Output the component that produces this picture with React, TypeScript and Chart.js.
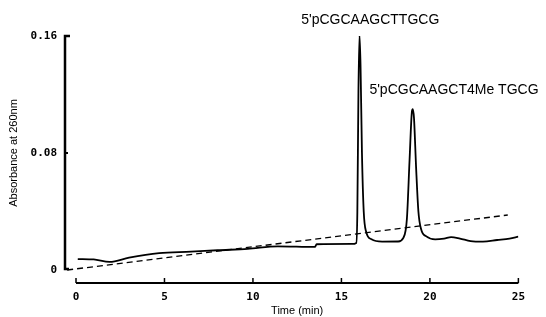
import React, { useEffect, useRef } from "react";
import { Chart, registerables } from "chart.js";

Chart.register(...registerables);

// ---- data ----
const SOLID_T = [0.1, 1.0, 1.9, 3.0, 4.7, 6.5, 8.0, 9.7, 11.4, 13.5, 13.6, 15.6, 15.84, 15.9, 15.96, 16.02, 16.08, 16.16, 16.26, 16.4, 16.7, 17.3, 18.2, 18.5, 18.7, 18.85, 18.98, 19.03, 19.1, 19.22, 19.35, 19.5, 19.8, 20.3, 20.8, 21.2, 21.7, 22.3, 23.0, 23.8, 24.5, 25.0];
const SOLID_A = [0.0075, 0.0072, 0.0055, 0.0085, 0.0116, 0.0125, 0.0135, 0.0144, 0.0162, 0.0158, 0.0176, 0.0178, 0.0185, 0.04, 0.12, 0.161, 0.14, 0.08, 0.04, 0.026, 0.021, 0.0194, 0.0195, 0.022, 0.035, 0.075, 0.108, 0.11, 0.104, 0.07, 0.04, 0.028, 0.023, 0.021, 0.0215, 0.0225, 0.0215, 0.0198, 0.0194, 0.0205, 0.0215, 0.0228];
const GRADIENT_T = [-0.5, 24.4];
const GRADIENT_A = [0.0, 0.0376];

const X_TICKS = [0, 5, 10, 15, 20, 25];
const Y_TICKS = [0, 0.08, 0.16];
const Y_TICK_LABELS = ["0", "0.08", "0.16"];

const X_TITLE = "Time (min)";
const Y_TITLE = "Absorbance at 260nm";

const PEAK_LABELS = ["5'pCGCAAGCTTGCG", "5'pCGCAAGCT4Me TGCG"];
const PEAK_LABEL_T = [12.73, 16.58];
const PEAK_LABEL_A = [0.171, 0.1231];

const axesPlugin = {
  id: "customAxes",
  afterDraw(chart: any) {
    const { ctx } = chart;
    const xs = chart.scales.x;
    const ys = chart.scales.y;
    ctx.save();
    ctx.strokeStyle = "#000";
    ctx.lineCap = "butt";
    // y-axis line (offset left of plot)
    const ax = xs.getPixelForValue(0) - 11;
    const yTop = ys.getPixelForValue(0.16);
    const yBot = ys.getPixelForValue(0) - 1;
    ctx.lineWidth = 2.5;
    ctx.beginPath();
    ctx.moveTo(ax + 5, yTop);
    ctx.lineTo(ax, yTop);
    ctx.lineTo(ax, yBot);
    ctx.lineTo(ax + 4, yBot);
    ctx.stroke();
    ctx.lineWidth = 2;
    const ym = ys.getPixelForValue(0.08);
    ctx.beginPath();
    ctx.moveTo(ax, ym);
    ctx.lineTo(ax + 3, ym);
    ctx.stroke();
    // x-axis line (offset below plot)
    const ay = ys.getPixelForValue(0) + 13;
    ctx.lineWidth = 2;
    ctx.beginPath();
    ctx.moveTo(xs.getPixelForValue(X_TICKS[0]), ay);
    ctx.lineTo(xs.getPixelForValue(X_TICKS[X_TICKS.length - 1]), ay);
    ctx.stroke();
    ctx.lineWidth = 1.5;
    X_TICKS.forEach((t) => {
      const px = xs.getPixelForValue(t);
      ctx.beginPath();
      ctx.moveTo(px, ay);
      ctx.lineTo(px, ay - 5);
      ctx.stroke();
    });
    // peak labels
    ctx.fillStyle = "#000";
    ctx.font = "14px 'Liberation Sans', Arial, sans-serif";
    ctx.textBaseline = "middle";
    ctx.textAlign = "left";
    PEAK_LABELS.forEach((s, i) => {
      ctx.fillText(s, xs.getPixelForValue(PEAK_LABEL_T[i]), ys.getPixelForValue(PEAK_LABEL_A[i]));
    });
    ctx.restore();
  },
};

export default function App() {
  const ref = useRef<HTMLCanvasElement | null>(null);
  useEffect(() => {
    if (!ref.current) return;
    const chart = new Chart(ref.current, {
      type: "line",
      data: {
        datasets: [
          {
            data: SOLID_T.map((t, i) => ({ x: t, y: SOLID_A[i] })),
            borderColor: "#000",
            borderWidth: 1.8,
            pointRadius: 0,
            fill: false,
            cubicInterpolationMode: "monotone",
          },
          {
            data: GRADIENT_T.map((t, i) => ({ x: t, y: GRADIENT_A[i] })),
            borderColor: "#000",
            borderWidth: 1.3,
            borderDash: [6, 4],
            pointRadius: 0,
            fill: false,
            clip: false,
          },
        ],
      },
      options: {
        animation: false,
        responsive: false,
        devicePixelRatio: 1,
        layout: { padding: { top: 36, right: 21, left: 0, bottom: 0 } },
        plugins: { legend: { display: false }, tooltip: { enabled: false } },
        scales: {
          x: {
            type: "linear",
            min: 0,
            max: 25,
            afterFit: (s: any) => {
              s.height = 47;
            },
            afterBuildTicks: (s: any) => {
              s.ticks = X_TICKS.map((v) => ({ value: v }));
            },
            grid: { display: false, drawTicks: false },
            border: { display: false },
            ticks: {
              padding: 21,
              color: "#000",
              font: { family: "'DejaVu Sans Mono', monospace", size: 11, weight: "bold" },
              callback: (v: any) => String(v),
            },
            title: {
              display: true,
              text: X_TITLE,
              color: "#000",
              padding: { top: 0, bottom: -1 },
              font: { family: "'Liberation Sans', Arial, sans-serif", size: 11 },
            },
          },
          y: {
            type: "linear",
            min: 0,
            max: 0.16,
            afterFit: (s: any) => {
              s.width = 76;
            },
            afterBuildTicks: (s: any) => {
              s.ticks = Y_TICKS.map((v) => ({ value: v }));
            },
            grid: { display: false, drawTicks: false },
            border: { display: false },
            ticks: {
              padding: 19,
              color: "#000",
              font: { family: "'DejaVu Sans Mono', monospace", size: 11, weight: "bold" },
              callback: (v: any) => {
                const i = Y_TICKS.findIndex((t) => Math.abs(t - v) < 1e-9);
                return i >= 0 ? Y_TICK_LABELS[i] : "";
              },
            },
            title: {
              display: true,
              text: Y_TITLE,
              color: "#000",
              padding: { top: 7.4, bottom: 0 },
              font: { family: "'Liberation Sans', Arial, sans-serif", size: 11 },
            },
          },
        },
      },
      plugins: [axesPlugin],
    } as any);
    return () => chart.destroy();
  }, []);
  return (
    <div style={{ position: "fixed", left: 0, top: 0, width: 546, height: 317, background: "#fff" }}>
      <canvas ref={ref} width={546} height={317} style={{ display: "block" }} />
    </div>
  );
}
